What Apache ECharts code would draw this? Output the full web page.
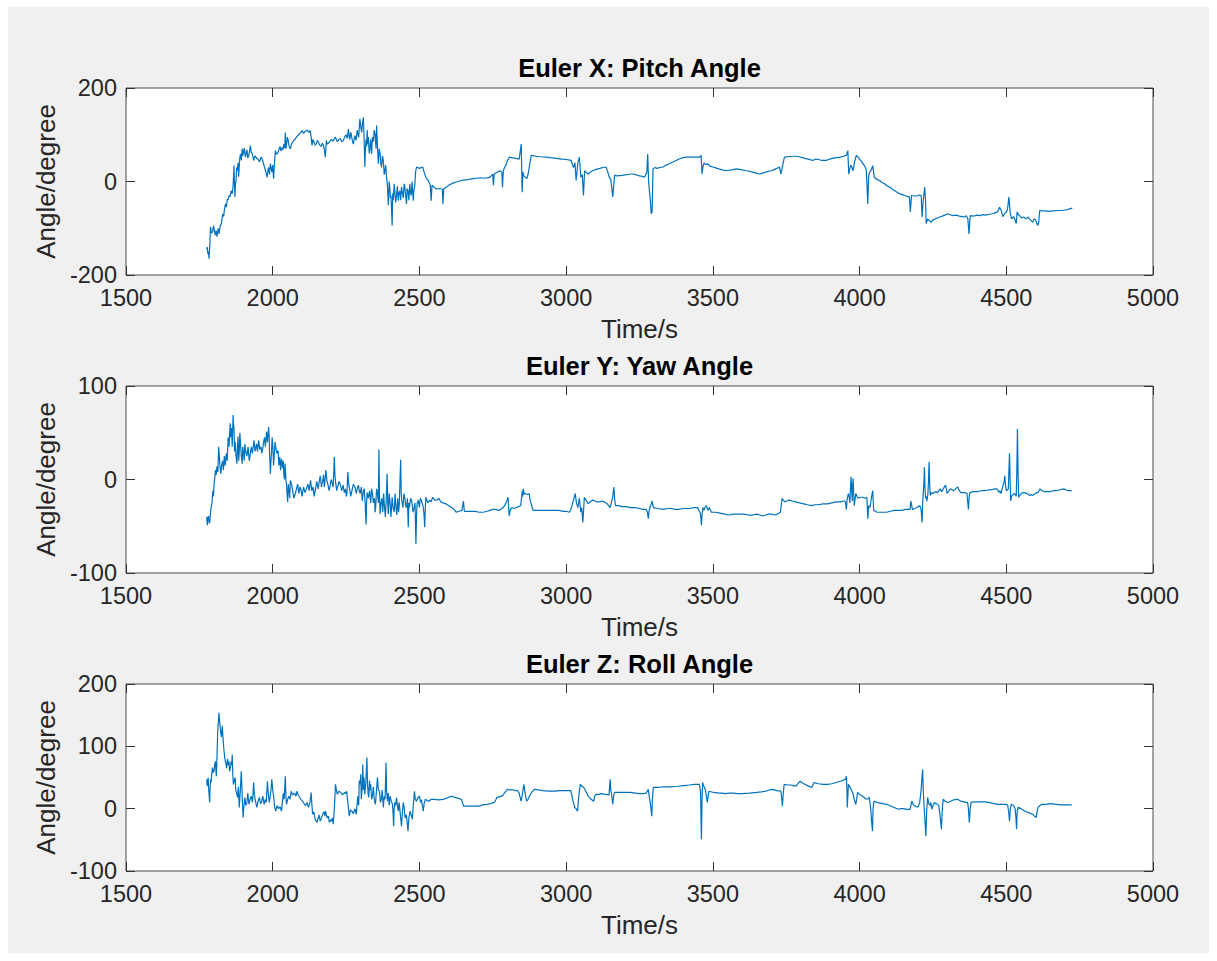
<!DOCTYPE html>
<html><head><meta charset="utf-8">
<script src="https://cdn.jsdelivr.net/npm/echarts@6/dist/echarts.min.js"></script>
<style>
html,body{margin:0;padding:0;background:#fff;width:1217px;height:961px;overflow:hidden}
#c{position:absolute;left:8px;top:7px;width:1201px;height:946px;background:#f0f0f0}
</style>
</head><body><div id="c"></div>
<script>
const titles = ['Euler X: Pitch Angle', 'Euler Y: Yaw Angle', 'Euler Z: Roll Angle'];
const xLabel = 'Time/s';
const yLabel = 'Angle/degree';
const xMin = 1500, xMax = 5000, xStep = 500;
const yMins = [-200, -100, -100];
const yMaxs = [200, 100, 200];
const ySteps = [200, 100, 100];

// [time s, angle deg]
const pitchData = [
[1775,-145],[1777,-140],[1779,-155],[1781,-150],[1783,-165],[1786,-130],[1788,-97],[1791,-110],[1795,-108],[1798,-95],
[1800,-100],[1804,-115],[1807,-105],[1810,-118],[1814,-100],[1817,-112],[1821,-95],[1825,-90],[1828,-75],[1830,-69],
[1833,-75],[1835,-62],[1837,-55],[1839,-48],[1842,-55],[1845,-38],[1848,-40],[1851,-30],[1855,-32],[1858,-20],
[1862,-26],[1865,-10],[1868,34],[1871,-33],[1873,-5],[1875,0],[1877,30],[1879,23],[1882,40],[1884,10],
[1887,45],[1890,59],[1893,45],[1896,70],[1898,55],[1900,60],[1903,72],[1907,52],[1910,62],[1912,68],
[1915,50],[1918,55],[1921,65],[1924,77],[1927,62],[1930,60],[1933,52],[1935,45],[1940,55],[1945,50],
[1950,48],[1955,42],[1960,52],[1964,48],[1968,40],[1972,30],[1976,22],[1981,9],[1984,25],[1986,30],
[1989,15],[1992,38],[1995,28],[1997,20],[2000,35],[2003,6],[2006,40],[2009,66],[2013,58],[2018,62],
[2022,70],[2025,75],[2028,65],[2032,73],[2035,68],[2038,80],[2041,72],[2043,105],[2045,70],[2047,78],
[2050,95],[2052,90],[2056,75],[2060,70],[2064,80],[2068,85],[2072,88],[2077,91],[2082,96],[2088,100],
[2094,104],[2100,109],[2105,103],[2110,107],[2118,110],[2123,105],[2128,109],[2131,95],[2134,77],[2137,90],
[2140,85],[2144,78],[2148,80],[2152,88],[2156,84],[2160,78],[2165,75],[2169,82],[2173,77],[2176,68],
[2179,52],[2183,88],[2186,80],[2190,82],[2195,86],[2200,90],[2206,86],[2213,95],[2217,90],[2220,85],
[2225,90],[2230,92],[2235,85],[2241,88],[2245,95],[2250,100],[2254,92],[2258,112],[2261,95],[2263,90],
[2266,105],[2268,100],[2272,85],[2275,80],[2278,92],[2280,98],[2284,88],[2288,110],[2291,100],[2293,95],
[2295,115],[2297,134],[2300,118],[2303,105],[2306,125],[2309,137],[2311,100],[2314,31],[2316,70],[2318,90],
[2320,75],[2322,110],[2324,80],[2326,95],[2329,60],[2331,70],[2334,90],[2337,59],[2340,95],[2343,85],
[2346,110],[2349,100],[2352,70],[2354,120],[2357,75],[2360,38],[2363,70],[2366,60],[2368,40],[2371,30],
[2374,55],[2377,45],[2380,15],[2382,20],[2385,35],[2388,9],[2391,-10],[2394,-51],[2397,0],[2399,-12],
[2401,-35],[2403,-30],[2405,-60],[2407,-94],[2409,-25],[2411,-40],[2414,-5],[2416,-19],[2419,-45],[2422,-30],
[2425,-10],[2428,-41],[2430,-25],[2433,-20],[2436,-40],[2439,-12],[2442,-25],[2445,-35],[2448,-5],[2450,-10],
[2453,-30],[2456,-48],[2458,-15],[2461,-20],[2464,-40],[2467,-5],[2470,-25],[2472,-30],[2475,0],[2479,-41],
[2481,-20],[2484,-10],[2487,20],[2490,31],[2500,28],[2511,31],[2516,20],[2522,9],[2530,2],[2537,-8],
[2540,-41],[2543,-8],[2550,-12],[2557,-16],[2568,-15],[2578,-16],[2580,-48],[2583,-16],[2592,-12],[2600,-8],
[2612,-4],[2625,-1],[2637,1],[2650,3],[2666,4],[2682,6],[2696,7],[2710,8],[2725,7],[2739,9],
[2745,12],[2750,16],[2752,-8],[2755,16],[2765,20],[2775,23],[2781,20],[2783,-12],[2786,23],[2790,30],
[2795,35],[2800,45],[2807,52],[2815,51],[2825,50],[2832,49],[2840,48],[2847,80],[2850,-23],[2853,20],
[2855,13],[2860,10],[2866,6],[2870,15],[2874,30],[2878,45],[2881,56],[2890,55],[2900,54],[2915,53],
[2932,52],[2945,51],[2960,50],[2972,49],[2985,48],[3000,47],[3017,45],[3025,30],[3030,40],[3034,2],
[3040,40],[3045,52],[3050,9],[3055,15],[3059,-30],[3063,23],[3068,20],[3075,16],[3082,20],[3090,23],
[3102,26],[3115,28],[3125,30],[3136,31],[3142,20],[3147,9],[3152,5],[3159,-33],[3165,13],[3175,12],
[3190,13],[3200,14],[3210,15],[3220,16],[3227,16],[3240,14],[3250,12],[3260,11],[3267,9],[3275,20],
[3278,59],[3281,-1],[3287,-40],[3290,-69],[3293,-65],[3296,27],[3303,30],[3310,28],[3320,30],[3330,31],
[3340,35],[3352,38],[3362,41],[3375,45],[3385,48],[3398,51],[3410,52],[3425,52],[3440,52],[3455,52],
[3460,56],[3463,16],[3466,30],[3470,40],[3476,36],[3483,38],[3490,33],[3500,31],[3510,29],[3520,27],
[3532,25],[3545,23],[3555,24],[3565,25],[3580,27],[3590,26],[3600,25],[3614,23],[3625,22],[3635,20],
[3648,18],[3659,16],[3670,18],[3680,20],[3690,22],[3700,23],[3710,26],[3718,28],[3727,31],[3732,16],
[3738,35],[3744,52],[3755,53],[3770,54],[3782,54],[3795,53],[3810,50],[3825,48],[3841,45],[3850,48],
[3860,47],[3872,45],[3886,45],[3898,48],[3910,50],[3922,51],[3935,52],[3945,54],[3955,56],[3960,66],
[3963,16],[3967,28],[3970,35],[3974,30],[3978,23],[3981,35],[3984,45],[3989,56],[3995,52],[4000,48],
[4008,42],[4015,35],[4020,30],[4023,23],[4028,-48],[4031,13],[4035,20],[4040,25],[4045,34],[4050,9],
[4058,5],[4068,2],[4077,-2],[4085,-5],[4093,-9],[4102,-12],[4111,-16],[4120,-20],[4128,-23],[4136,-26],
[4146,-28],[4155,-30],[4162,-32],[4170,-33],[4173,-65],[4177,-30],[4186,-31],[4195,-31],[4203,-29],[4210,-30],
[4213,-76],[4217,-40],[4219,-30],[4222,-12],[4225,-45],[4227,-90],[4232,-80],[4238,-84],[4244,-87],[4250,-82],
[4258,-80],[4265,-78],[4273,-76],[4282,-74],[4290,-72],[4300,-69],[4309,-71],[4318,-73],[4330,-72],[4340,-74],
[4350,-75],[4358,-76],[4364,-73],[4369,-80],[4373,-112],[4377,-73],[4386,-74],[4395,-73],[4402,-72],[4409,-73],
[4420,-71],[4430,-72],[4442,-70],[4454,-69],[4462,-67],[4470,-65],[4477,-55],[4483,-62],[4488,-75],[4494,-69],
[4500,-65],[4504,-60],[4509,-33],[4513,-65],[4518,-80],[4525,-75],[4530,-82],[4534,-90],[4537,-65],[4540,-70],
[4545,-73],[4552,-78],[4560,-76],[4567,-80],[4574,-76],[4582,-82],[4590,-87],[4595,-80],[4600,-82],[4604,-90],
[4608,-94],[4611,-85],[4614,-62],[4625,-63],[4635,-63],[4647,-64],[4659,-63],[4675,-62],[4690,-62],[4700,-61],
[4710,-60],[4718,-58],[4725,-57]
];

const yawData = [
[1775,-40],[1777,-49],[1779,-42],[1781,-39],[1784,-47],[1786,-44],[1788,-35],[1790,-30],[1793,-25],[1796,-12],
[1798,-18],[1800,-5],[1802,0],[1805,10],[1807,5],[1810,14],[1813,8],[1816,35],[1818,25],[1820,15],
[1823,6],[1826,15],[1829,20],[1832,10],[1835,25],[1838,15],[1842,28],[1845,20],[1848,45],[1851,35],
[1855,60],[1857,45],[1860,55],[1862,35],[1865,69],[1866,60],[1868,56],[1870,30],[1872,40],[1875,25],
[1878,17],[1880,35],[1882,46],[1884,20],[1886,30],[1888,50],[1890,40],[1893,25],[1896,17],[1898,35],
[1900,30],[1903,20],[1905,38],[1908,30],[1912,25],[1916,35],[1920,20],[1924,28],[1927,35],[1931,28],
[1936,42],[1940,30],[1945,38],[1948,30],[1952,42],[1956,32],[1960,35],[1963,28],[1966,33],[1969,40],
[1972,45],[1975,35],[1979,51],[1982,40],[1986,56],[1988,45],[1989,30],[1991,15],[1992,6],[1994,20],
[1996,30],[1998,45],[2000,38],[2003,15],[2005,25],[2008,40],[2010,35],[2014,28],[2018,31],[2021,15],
[2024,24],[2027,10],[2030,22],[2034,12],[2036,20],[2038,6],[2040,0],[2042,17],[2045,0],[2047,-5],
[2049,-15],[2051,-24],[2053,-5],[2055,-10],[2058,-20],[2060,-1],[2064,-5],[2068,-12],[2072,-20],[2077,-15],
[2081,-10],[2085,-5],[2089,-15],[2093,-8],[2097,-12],[2100,-18],[2105,-8],[2110,-14],[2115,-10],[2120,-5],
[2124,-12],[2129,-1],[2133,-12],[2138,-8],[2141,-18],[2145,-12],[2150,-2],[2155,-10],[2158,-3],[2162,4],
[2166,-8],[2170,-2],[2173,5],[2176,-8],[2179,2],[2181,10],[2185,-2],[2188,-5],[2192,-12],[2195,-8],
[2199,0],[2202,-3],[2206,-8],[2210,24],[2212,5],[2214,-2],[2218,-12],[2221,-8],[2226,-2],[2230,-5],
[2235,-12],[2240,-6],[2244,-14],[2248,-10],[2251,-18],[2253,-15],[2256,8],[2259,-5],[2262,-10],[2266,-18],
[2270,-12],[2275,-5],[2280,-8],[2285,-15],[2288,-10],[2292,-6],[2295,-12],[2298,-15],[2302,-8],[2305,-23],
[2309,-12],[2312,-10],[2315,-25],[2318,-48],[2320,-25],[2322,-14],[2326,-20],[2330,-12],[2334,-25],[2337,-10],
[2340,-15],[2343,-25],[2347,-20],[2349,-35],[2351,-30],[2354,-10],[2357,-15],[2360,-25],[2362,32],[2364,-20],
[2366,-37],[2369,-25],[2372,-20],[2375,-35],[2378,-15],[2381,-30],[2384,-40],[2387,-20],[2390,6],[2392,-25],
[2394,-37],[2397,-15],[2400,-25],[2403,-40],[2407,-19],[2410,-30],[2414,-35],[2417,-15],[2420,-30],[2423,-38],
[2426,-20],[2429,-35],[2431,-28],[2433,-10],[2436,21],[2438,-15],[2440,-23],[2444,-30],[2447,-15],[2450,-19],
[2453,-28],[2456,-30],[2459,-20],[2462,-51],[2464,-25],[2466,-30],[2470,-20],[2474,-23],[2478,-35],[2482,-30],
[2485,-25],[2488,-69],[2490,-40],[2492,-26],[2496,-22],[2500,-30],[2503,-20],[2507,-23],[2512,-28],[2515,-35],
[2518,-51],[2520,-30],[2522,-19],[2528,-25],[2535,-22],[2540,-24],[2545,-19],[2552,-22],[2560,-22],[2566,-20],
[2573,-24],[2580,-25],[2590,-26],[2600,-28],[2610,-30],[2618,-32],[2625,-35],[2635,-34],[2645,-33],[2650,-23],
[2653,-34],[2663,-34],[2675,-34],[2690,-34],[2704,-35],[2717,-35],[2730,-34],[2740,-33],[2750,-32],[2760,-32],
[2769,-33],[2778,-32],[2785,-30],[2790,-28],[2795,-25],[2799,-22],[2802,-19],[2806,-39],[2810,-32],[2815,-30],
[2822,-31],[2830,-30],[2838,-29],[2845,-28],[2848,-20],[2850,-12],[2852,-18],[2854,-10],[2857,-16],[2860,-15],
[2868,-16],[2874,-15],[2877,-22],[2880,-25],[2884,-30],[2887,-33],[2900,-33],[2920,-33],[2940,-33],[2959,-33],
[2975,-33],[2990,-34],[3000,-34],[3011,-35],[3016,-32],[3020,-28],[3025,-22],[3031,-15],[3035,-25],[3040,-30],
[3045,-20],[3050,-35],[3053,-30],[3057,-46],[3060,-30],[3062,-19],[3068,-22],[3075,-26],[3082,-24],[3090,-22],
[3098,-23],[3105,-24],[3113,-24],[3121,-23],[3130,-24],[3140,-26],[3145,-28],[3150,-30],[3154,-25],[3158,-20],
[3163,-8],[3165,-20],[3168,-28],[3180,-28],[3190,-29],[3205,-29],[3219,-30],[3235,-30],[3250,-31],[3262,-32],
[3273,-32],[3277,-35],[3280,-42],[3283,-33],[3286,-30],[3290,-26],[3293,-23],[3295,-27],[3298,-30],[3312,-31],
[3330,-32],[3345,-31],[3360,-31],[3370,-32],[3381,-32],[3400,-31],[3420,-31],[3435,-30],[3448,-30],[3452,-33],
[3456,-35],[3459,-40],[3461,-49],[3463,-38],[3466,-30],[3470,-33],[3474,-29],[3478,-28],[3483,-33],[3488,-30],
[3495,-35],[3510,-35],[3525,-36],[3540,-37],[3555,-38],[3570,-37],[3590,-37],[3605,-37],[3622,-38],[3635,-38],
[3650,-37],[3660,-38],[3669,-39],[3680,-38],[3690,-37],[3700,-37],[3710,-38],[3720,-37],[3730,-35],[3733,-28],
[3736,-20],[3740,-22],[3745,-24],[3752,-23],[3760,-22],[3770,-23],[3783,-24],[3795,-25],[3810,-26],[3822,-27],
[3837,-28],[3848,-27],[3860,-27],[3875,-26],[3891,-26],[3905,-25],[3920,-24],[3935,-24],[3945,-23],[3951,-23],
[3955,-32],[3958,-20],[3962,-15],[3965,-20],[3967,-25],[3969,-10],[3971,3],[3973,-10],[3975,-23],[3976,-10],
[3978,1],[3980,-15],[3982,-28],[3985,-20],[3987,-15],[3991,-18],[3995,-20],[4002,-19],[4010,-19],[4018,-20],
[4025,-19],[4028,-42],[4031,-28],[4035,-30],[4038,-25],[4040,-20],[4043,-15],[4045,-12],[4048,-33],[4054,-34],
[4060,-35],[4070,-35],[4079,-35],[4092,-35],[4105,-34],[4118,-33],[4132,-33],[4145,-33],[4155,-32],[4165,-32],
[4172,-32],[4175,-23],[4180,-32],[4188,-31],[4195,-30],[4200,-29],[4205,-28],[4208,-30],[4210,-33],[4213,-46],
[4215,-25],[4217,-15],[4219,-5],[4221,13],[4223,-10],[4225,-20],[4227,-18],[4229,-23],[4231,-20],[4233,-15],
[4235,0],[4237,19],[4239,-5],[4241,-17],[4245,-14],[4250,-15],[4258,-13],[4266,-14],[4270,-12],[4275,-10],
[4279,-13],[4282,-12],[4287,-9],[4293,-6],[4296,-10],[4298,-15],[4304,-12],[4310,-10],[4315,-11],[4320,-12],
[4327,-10],[4334,-8],[4340,-12],[4345,-14],[4352,-14],[4360,-14],[4366,-15],[4368,-22],[4371,-32],[4373,-20],
[4376,-14],[4388,-13],[4400,-13],[4415,-12],[4428,-12],[4440,-11],[4450,-11],[4460,-10],[4468,-10],[4472,-12],
[4475,-14],[4478,-12],[4482,-15],[4486,-10],[4490,-5],[4493,-2],[4495,4],[4497,-5],[4500,-12],[4504,-11],
[4507,-10],[4509,10],[4511,28],[4513,0],[4515,-23],[4518,-18],[4520,-17],[4524,-16],[4527,-15],[4531,-16],
[4534,-18],[4536,10],[4538,54],[4540,10],[4542,-19],[4548,-16],[4555,-14],[4562,-14],[4570,-15],[4575,-16],
[4580,-17],[4585,-16],[4589,-17],[4594,-16],[4600,-15],[4604,-14],[4608,-14],[4612,-12],[4615,-10],[4622,-12],
[4630,-13],[4640,-13],[4650,-13],[4660,-12],[4670,-12],[4683,-11],[4696,-10],[4703,-11],[4710,-12],[4716,-12],
[4723,-12]
];

const rollData = [
[1775,47],[1776,40],[1778,36],[1780,50],[1782,30],[1785,10],[1786,25],[1788,47],[1790,42],[1792,55],
[1795,66],[1797,58],[1800,60],[1802,70],[1805,76],[1806,65],[1808,52],[1810,80],[1812,117],[1814,135],
[1817,154],[1819,140],[1822,125],[1825,115],[1828,133],[1831,110],[1834,93],[1837,80],[1841,71],[1843,65],
[1846,80],[1848,70],[1851,76],[1853,60],[1856,66],[1858,75],[1860,70],[1862,87],[1864,55],[1866,39],
[1869,45],[1872,50],[1874,30],[1877,25],[1880,18],[1883,35],[1886,2],[1889,25],[1893,60],[1896,20],
[1899,-14],[1902,5],[1905,18],[1908,5],[1912,10],[1915,25],[1919,7],[1923,15],[1927,20],[1931,10],
[1935,42],[1937,25],[1940,15],[1943,8],[1946,2],[1950,12],[1955,18],[1958,8],[1962,10],[1966,20],
[1971,7],[1975,15],[1978,10],[1982,44],[1984,30],[1986,20],[1988,10],[1991,18],[1994,30],[1997,47],
[2000,30],[2003,20],[2006,5],[2010,-4],[2015,5],[2020,0],[2025,3],[2030,-4],[2033,10],[2036,25],
[2039,15],[2043,52],[2045,20],[2047,7],[2051,15],[2055,20],[2059,15],[2063,28],[2068,22],[2075,25],
[2079,20],[2083,28],[2086,22],[2090,20],[2096,15],[2102,12],[2107,8],[2112,5],[2117,10],[2122,2],
[2127,10],[2131,26],[2133,10],[2136,-9],[2140,-5],[2145,-18],[2151,-22],[2155,-15],[2158,-10],[2162,-20],
[2167,-14],[2171,-8],[2175,-5],[2178,-12],[2180,-4],[2183,-10],[2186,-15],[2190,-12],[2193,-22],[2197,-18],
[2200,-20],[2203,-15],[2206,-25],[2210,0],[2214,39],[2217,30],[2220,23],[2225,28],[2232,26],[2238,22],
[2245,26],[2249,24],[2252,28],[2256,10],[2261,-12],[2265,-2],[2270,-4],[2275,-8],[2280,0],[2285,-9],
[2288,10],[2290,20],[2293,5],[2295,45],[2298,39],[2300,55],[2302,15],[2305,35],[2307,71],[2309,30],
[2311,50],[2314,23],[2317,40],[2319,60],[2321,82],[2323,40],[2325,25],[2327,18],[2330,45],[2332,30],
[2334,39],[2337,15],[2340,20],[2343,35],[2346,15],[2350,7],[2353,25],[2357,50],[2360,30],[2364,28],
[2367,10],[2370,15],[2373,30],[2377,2],[2380,20],[2383,15],[2386,74],[2388,30],[2391,12],[2394,25],
[2397,5],[2400,20],[2404,12],[2408,7],[2410,-5],[2412,-28],[2414,0],[2416,10],[2419,5],[2422,18],
[2425,5],[2428,-4],[2431,10],[2435,-10],[2439,-28],[2442,-5],[2445,10],[2448,2],[2451,-15],[2455,-10],
[2458,-20],[2461,-36],[2464,-15],[2468,-4],[2472,-10],[2476,-17],[2479,5],[2483,28],[2486,15],[2490,12],
[2495,18],[2500,20],[2504,10],[2507,14],[2510,5],[2513,-4],[2516,8],[2520,15],[2526,13],[2533,12],
[2540,15],[2552,15],[2565,14],[2580,15],[2588,16],[2595,17],[2603,19],[2611,20],[2620,18],[2630,17],
[2637,16],[2643,15],[2647,10],[2650,4],[2662,4],[2675,4],[2690,4],[2702,4],[2716,6],[2730,7],
[2742,8],[2755,10],[2760,14],[2764,18],[2772,19],[2780,20],[2785,22],[2790,25],[2795,28],[2800,31],
[2810,30],[2820,30],[2827,29],[2834,29],[2840,25],[2846,12],[2850,20],[2853,30],[2856,39],[2860,25],
[2865,12],[2870,15],[2875,20],[2882,26],[2892,31],[2905,30],[2920,29],[2940,28],[2963,28],[2976,29],
[2990,29],[3003,29],[3016,29],[3022,15],[3029,2],[3034,0],[3039,-4],[3043,20],[3048,39],[3054,36],
[3060,34],[3067,28],[3075,20],[3085,15],[3094,12],[3097,20],[3101,23],[3110,23],[3120,24],[3133,23],
[3146,22],[3150,47],[3152,30],[3155,23],[3157,15],[3159,7],[3162,20],[3165,26],[3178,26],[3190,26],
[3205,26],[3219,26],[3235,25],[3250,24],[3262,24],[3273,25],[3280,31],[3283,20],[3286,12],[3289,0],
[3292,-12],[3294,15],[3297,34],[3313,34],[3330,35],[3355,35],[3381,36],[3400,37],[3420,38],[3437,39],
[3454,39],[3458,28],[3461,-49],[3463,10],[3465,42],[3470,35],[3475,30],[3478,20],[3481,10],[3484,20],
[3487,28],[3503,26],[3520,25],[3531,25],[3542,24],[3556,25],[3570,25],[3585,24],[3600,24],[3625,25],
[3649,26],[3665,27],[3680,28],[3692,30],[3705,31],[3718,29],[3732,28],[3735,15],[3737,4],[3740,25],
[3743,39],[3754,38],[3765,38],[3774,37],[3783,36],[3790,40],[3797,44],[3803,42],[3810,40],[3823,37],
[3837,34],[3841,38],[3845,42],[3852,41],[3860,40],[3875,39],[3891,39],[3905,40],[3920,42],[3935,44],
[3951,47],[3955,52],[3957,30],[3958,2],[3960,20],[3962,39],[3967,35],[3972,30],[3977,25],[3982,15],
[3987,7],[3990,15],[3993,26],[4000,23],[4010,20],[4018,17],[4025,15],[4029,16],[4033,18],[4038,0],
[4041,-20],[4044,-36],[4046,0],[4049,12],[4060,10],[4070,9],[4080,8],[4092,7],[4102,5],[4112,3],
[4122,1],[4132,-1],[4140,0],[4150,0],[4160,-1],[4172,-1],[4175,5],[4178,12],[4184,6],[4190,4],
[4195,3],[4200,3],[4205,10],[4210,31],[4212,45],[4215,63],[4217,30],[4220,2],[4223,-20],[4226,-44],
[4229,0],[4232,18],[4236,8],[4240,5],[4243,10],[4246,-1],[4250,5],[4255,10],[4260,8],[4266,7],
[4270,5],[4274,-10],[4279,-33],[4282,0],[4285,15],[4292,12],[4300,10],[4310,12],[4320,14],[4334,15],
[4345,12],[4355,11],[4362,10],[4368,10],[4371,0],[4374,-22],[4377,0],[4380,10],[4390,11],[4400,11],
[4415,11],[4428,11],[4440,10],[4450,9],[4460,8],[4468,7],[4485,7],[4500,7],[4505,5],[4508,-5],
[4511,-20],[4514,0],[4517,7],[4521,6],[4525,5],[4530,0],[4533,-15],[4535,-33],[4537,-5],[4540,2],
[4550,0],[4560,-3],[4567,-5],[4575,-6],[4583,-8],[4590,-9],[4596,-12],[4602,-14],[4605,-5],[4608,2],
[4615,5],[4622,7],[4636,7],[4650,8],[4670,7],[4689,6],[4706,6],[4723,6]
];

const seriesData = [pitchData, yawData, rollData];

const FONT = "'Liberation Sans', Arial, Helvetica, sans-serif";
const TXT = '#262626';
const gridTops = [81, 379, 677];
const gridH = 187, gridLeft = 118, gridRight = 56;
const W = 1201;
const centerX = gridLeft + (W - gridLeft - gridRight) / 2;
const plain = v => String(v);

const grid = [], xAxis = [], yAxis = [], series = [], graphic = [];
for (let i = 0; i < 3; i++) {
  grid.push({left: gridLeft, right: gridRight, top: gridTops[i], height: gridH,
    show: true, backgroundColor: '#ffffff', borderColor: '#4a4a4a', borderWidth: 1});
  const tick = {show: true, inside: true, length: 9, lineStyle: {color: '#333', width: 1}};
  const noLine = {show: false, onZero: false};
  xAxis.push({type: 'value', gridIndex: i, position: 'bottom', min: xMin, max: xMax, interval: xStep,
    axisLine: noLine, axisTick: tick, splitLine: {show: false},
    axisLabel: {color: TXT, fontSize: 23.5, fontFamily: FONT, margin: 11, formatter: plain},
    name: xLabel, nameLocation: 'middle', nameGap: 41,
    nameTextStyle: {color: TXT, fontSize: 26, fontFamily: FONT}});
  xAxis.push({type: 'value', gridIndex: i, position: 'top', min: xMin, max: xMax, interval: xStep,
    axisLine: noLine, axisTick: tick, splitLine: {show: false}, axisLabel: {show: false}});
  yAxis.push({type: 'value', gridIndex: i, position: 'left', min: yMins[i], max: yMaxs[i], interval: ySteps[i],
    axisLine: noLine, axisTick: tick, splitLine: {show: false},
    axisLabel: {color: TXT, fontSize: 23.5, fontFamily: FONT, margin: 9, formatter: plain},
    name: yLabel, nameLocation: 'middle', nameGap: 66,
    nameTextStyle: {color: TXT, fontSize: 26, fontFamily: FONT}});
  yAxis.push({type: 'value', gridIndex: i, position: 'right', min: yMins[i], max: yMaxs[i], interval: ySteps[i],
    axisLine: noLine, axisTick: tick, splitLine: {show: false}, axisLabel: {show: false}});
  series.push({type: 'line', xAxisIndex: 2 * i, yAxisIndex: 2 * i, data: seriesData[i],
    showSymbol: false, symbol: 'none', lineStyle: {color: '#0072BD', width: 1.2}, silent: true});
  graphic.push({type: 'text', x: centerX, y: gridTops[i] - 20,
    style: {text: titles[i], fill: '#000', font: "bold 25.5px 'Liberation Sans', Arial, sans-serif",
      textAlign: 'center', textVerticalAlign: 'middle'}});
}

const chart = echarts.init(document.getElementById('c'), null, {renderer: 'svg'});
chart.setOption({
  backgroundColor: '#f0f0f0',
  animation: false,
  grid, xAxis, yAxis, series, graphic
});
</script>
</body></html>
